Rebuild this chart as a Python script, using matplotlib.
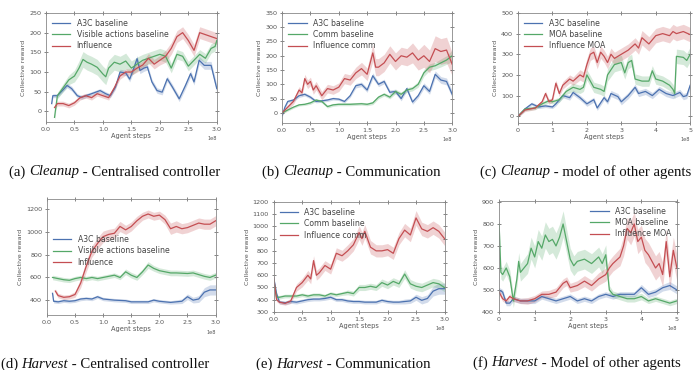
import matplotlib
matplotlib.use("Agg")
import matplotlib.pyplot as plt
import numpy as np

plt.rcParams['font.family'] = ['DejaVu Sans']

BLUE, GREEN, RED = '#4C72B0', '#55A868', '#C44E52'

# ---------------- (a) Cleanup - Centralised controller ----------------
a_blue_x = [0.10,0.12,0.20,0.30,0.37,0.45,0.55,0.62,0.70,0.80,0.95,1.05,1.13,1.22,1.30,1.40,1.47,1.53,1.60,1.65,1.72,1.78,1.86,1.95,2.04,2.13,2.22,2.34,2.45,2.54,2.60,2.69,2.78,2.90,3.00]
a_blue_y = [20,40,40,55,66,58,40,36,40,45,53,45,40,62,100,98,82,105,134,104,110,113,75,53,49,83,62,32,66,96,75,130,117,117,58]
a_blue_s = [5,5,5,5,6,6,5,5,5,5,5,5,5,6,7,7,7,8,8,8,8,8,7,7,7,7,7,7,8,8,8,10,10,10,10]
a_green_x = [0.15,0.20,0.30,0.40,0.50,0.58,0.65,0.72,0.80,0.90,1.00,1.05,1.10,1.20,1.30,1.40,1.50,1.60,1.70,1.80,1.90,2.00,2.10,2.20,2.30,2.40,2.50,2.60,2.70,2.80,2.90,2.97,3.00]
a_green_y = [-15,40,60,80,90,110,132,125,120,112,95,88,110,125,120,128,110,120,130,135,140,145,140,110,145,140,115,130,145,135,160,165,180]
a_green_s = [8,8,10,12,15,18,20,20,20,20,20,20,20,20,20,20,18,18,15,15,15,15,15,12,12,12,12,12,12,12,12,12,12]
a_red_x = [0.15,0.20,0.30,0.40,0.50,0.60,0.70,0.80,0.90,1.00,1.10,1.20,1.30,1.40,1.50,1.60,1.70,1.80,1.90,2.00,2.10,2.20,2.30,2.40,2.50,2.60,2.70,2.80,2.90,3.00]
a_red_y = [10,20,20,15,22,35,40,35,45,40,35,60,90,100,100,110,118,135,120,130,140,160,190,200,180,155,200,195,190,185]
a_red_s = [6,6,6,6,6,6,6,6,6,6,6,6,8,8,8,10,10,12,12,12,15,15,15,15,15,15,15,15,15,15]

# ---------------- (b) Cleanup - Communication ----------------
b_blue_x = [0.0,0.05,0.10,0.20,0.30,0.40,0.50,0.60,0.70,0.80,0.90,1.00,1.10,1.20,1.30,1.40,1.50,1.60,1.70,1.80,1.90,2.00,2.10,2.20,2.30,2.40,2.50,2.60,2.70,2.80,2.90,3.00]
b_blue_y = [-10,20,40,45,60,65,55,40,42,45,50,48,40,60,95,100,80,130,100,110,72,75,50,85,38,60,95,75,135,115,110,65]
b_blue_s = [5,5,5,5,6,6,6,5,5,5,5,5,5,6,8,8,8,10,8,8,8,8,8,8,8,8,10,10,12,12,12,12]
b_green_x = [0.0,0.1,0.2,0.3,0.4,0.5,0.6,0.7,0.8,0.9,1.0,1.2,1.4,1.5,1.6,1.7,1.8,1.9,2.0,2.1,2.2,2.3,2.4,2.5,2.6,2.7,2.8,2.9,3.0]
b_green_y = [0,10,20,28,30,35,45,40,22,28,30,30,32,30,35,55,65,55,75,65,80,85,100,140,160,165,175,185,200]
b_green_s = [4,4,4,4,4,5,5,5,5,5,5,5,5,5,6,6,6,6,8,8,8,8,10,12,12,12,14,15,20]
b_red_x = [0.0,0.1,0.2,0.3,0.35,0.4,0.45,0.5,0.55,0.6,0.7,0.8,0.9,1.0,1.1,1.2,1.3,1.4,1.5,1.6,1.65,1.7,1.8,1.9,2.0,2.1,2.2,2.3,2.4,2.5,2.6,2.7,2.8,2.9,3.0]
b_red_y = [0,20,40,80,70,120,100,110,80,95,60,85,80,90,120,115,140,155,135,210,160,160,175,205,180,200,195,210,185,200,180,225,215,220,170]
b_red_s = [6,8,10,12,12,15,15,15,15,15,15,15,15,15,18,18,20,22,22,30,30,30,30,30,30,30,30,35,35,40,40,45,45,45,40]

# ---------------- (c) Cleanup - model of other agents ----------------
c_blue_x = [0.0,0.2,0.4,0.6,0.8,1.0,1.1,1.3,1.5,1.6,1.8,2.0,2.2,2.3,2.5,2.6,2.7,2.9,3.0,3.2,3.4,3.5,3.7,3.9,4.1,4.3,4.5,4.7,4.8,4.9,5.0]
c_blue_y = [0,35,60,45,50,45,60,100,90,115,90,60,80,40,90,70,110,95,70,100,140,110,120,100,130,110,100,115,95,100,150]
c_blue_s = [5,8,8,8,8,8,10,10,12,12,12,12,12,12,12,12,15,15,15,15,15,15,15,15,15,15,15,15,15,15,15]
c_green_x = [0.0,0.2,0.5,0.7,0.9,1.0,1.2,1.4,1.6,1.8,1.9,2.0,2.2,2.4,2.5,2.6,2.8,3.0,3.1,3.2,3.3,3.4,3.6,3.8,3.9,4.0,4.2,4.4,4.5,4.55,4.6,4.8,4.9,5.0]
c_green_y = [0,35,40,60,75,70,80,120,140,130,140,200,140,130,120,200,250,260,210,260,270,180,170,170,220,180,170,150,130,110,290,285,270,300]
c_green_s = [5,8,8,10,10,10,12,15,20,20,20,25,25,25,25,30,35,35,30,30,30,25,25,25,25,25,25,25,25,25,35,35,35,35]
c_red_x = [0.0,0.2,0.5,0.7,0.8,0.9,1.0,1.1,1.2,1.3,1.5,1.6,1.8,1.9,2.0,2.1,2.2,2.3,2.4,2.5,2.6,2.7,2.8,3.0,3.2,3.4,3.5,3.6,3.8,4.0,4.2,4.4,4.5,4.6,4.8,5.0]
c_red_y = [0,30,40,70,110,70,80,160,110,150,180,170,200,190,250,300,310,260,310,290,260,300,280,300,320,350,330,380,350,390,400,390,410,400,410,395]
c_red_s = [5,8,8,10,12,12,12,15,15,18,20,20,25,25,30,30,30,30,30,30,30,30,30,30,30,30,30,35,35,35,35,35,35,35,35,35]

# ---------------- (d) Harvest - Centralised controller ----------------
d_blue_x = [0.10,0.12,0.20,0.30,0.40,0.50,0.60,0.70,0.80,0.90,1.00,1.10,1.20,1.40,1.50,1.60,1.80,1.90,2.00,2.20,2.40,2.50,2.60,2.70,2.80,2.90,3.00]
d_blue_y = [460,390,385,395,390,395,410,415,410,430,410,405,400,395,385,385,385,400,390,380,390,430,400,410,470,490,490]
d_blue_s = [15,15,15,15,15,15,15,15,15,15,15,15,15,15,15,15,15,15,15,15,20,25,25,30,40,45,45]
d_green_x = [0.10,0.20,0.30,0.40,0.50,0.60,0.70,0.80,0.90,1.00,1.10,1.20,1.30,1.40,1.50,1.60,1.70,1.80,1.90,2.00,2.10,2.20,2.30,2.50,2.60,2.70,2.80,2.90,3.00]
d_green_y = [600,590,580,575,590,600,590,600,590,600,610,620,600,650,620,600,650,710,680,660,650,640,640,635,640,625,610,600,620]
d_green_s = [20,20,20,20,20,20,20,20,20,20,20,20,20,25,25,25,25,30,25,25,25,25,25,25,25,25,25,25,25]
d_red_x = [0.15,0.20,0.30,0.40,0.50,0.60,0.70,0.80,0.90,1.00,1.10,1.20,1.30,1.40,1.50,1.60,1.70,1.80,1.90,2.00,2.10,2.20,2.30,2.40,2.50,2.60,2.70,2.80,2.90,3.00]
d_red_y = [480,440,425,430,450,550,700,830,900,960,980,990,1050,1020,1050,1100,1140,1160,1140,1150,1110,1030,1050,1030,1040,1060,1080,1070,1070,1100]
d_red_s = [20,20,20,20,25,40,50,50,50,50,45,45,45,40,40,40,35,35,35,35,40,50,50,45,45,45,45,45,45,45]

# ---------------- (e) Harvest - Communication ----------------
e_blue_x = [0.0,0.05,0.1,0.2,0.3,0.4,0.5,0.6,0.7,0.8,0.9,1.0,1.1,1.2,1.3,1.4,1.5,1.6,1.7,1.8,1.9,2.0,2.1,2.2,2.3,2.4,2.5,2.6,2.7,2.8,2.9,3.0]
e_blue_y = [580,450,380,375,385,380,390,400,405,405,410,420,400,400,390,385,385,380,380,380,395,385,380,380,385,390,420,395,410,470,490,490]
e_blue_s = [15,15,15,15,15,15,15,15,15,15,15,15,15,15,15,15,15,15,15,15,15,15,15,15,20,20,25,30,30,40,45,45]
e_green_x = [0.0,0.05,0.1,0.2,0.3,0.4,0.5,0.6,0.7,0.8,0.9,1.0,1.1,1.2,1.3,1.4,1.5,1.6,1.7,1.8,1.9,2.0,2.1,2.2,2.3,2.4,2.5,2.6,2.7,2.8,2.9,3.0]
e_green_y = [560,420,420,430,430,430,440,430,440,440,430,450,440,450,460,450,500,500,510,500,540,520,550,530,610,530,510,500,520,540,530,500]
e_green_s = [15,15,15,15,15,15,15,15,15,15,15,15,15,15,20,20,25,25,25,25,30,30,30,30,35,35,35,35,35,35,35,35]
e_red_x = [0.0,0.05,0.1,0.2,0.3,0.4,0.5,0.6,0.65,0.7,0.75,0.8,0.9,1.0,1.1,1.2,1.3,1.4,1.5,1.55,1.6,1.7,1.8,1.9,2.0,2.1,2.2,2.3,2.4,2.5,2.6,2.7,2.8,2.9,3.0]
e_red_y = [580,400,380,370,390,500,540,600,570,720,600,620,680,650,780,760,800,850,950,900,960,830,800,800,810,780,900,970,930,1070,980,960,990,960,900]
e_red_s = [15,15,15,15,20,30,35,40,40,40,40,40,40,40,45,45,50,50,55,55,55,55,50,50,50,50,50,55,55,60,55,55,55,55,55]

# ---------------- (f) Harvest - Model of other agents ----------------
f_blue_x = [0.0,0.1,0.2,0.3,0.4,0.6,0.8,1.0,1.2,1.4,1.6,1.8,2.0,2.2,2.4,2.6,2.8,3.0,3.2,3.4,3.6,3.8,4.0,4.2,4.4,4.6,4.8,4.9,5.0]
f_blue_y = [500,490,440,440,460,450,450,450,470,460,450,460,470,450,460,450,470,480,470,480,480,480,510,480,490,510,520,510,500]
f_blue_s = [12,12,12,12,12,12,12,12,12,12,12,12,12,12,12,12,12,12,12,12,12,12,15,15,15,15,18,18,18]
f_green_x = [0.0,0.05,0.1,0.2,0.3,0.4,0.5,0.55,0.6,0.8,0.9,1.0,1.1,1.2,1.3,1.4,1.5,1.6,1.7,1.8,1.9,2.0,2.1,2.2,2.4,2.6,2.8,2.9,3.0,3.1,3.2,3.4,3.6,3.8,4.0,4.2,4.4,4.6,4.8,5.0]
f_green_y = [800,580,570,600,560,450,550,630,580,620,690,650,720,690,750,720,730,700,740,800,720,640,610,630,640,620,650,620,660,500,480,470,460,460,470,450,460,450,440,450]
f_green_s = [20,30,30,30,30,30,35,40,40,45,50,50,55,55,60,60,60,60,60,60,55,50,45,45,45,45,45,45,45,20,15,15,15,15,15,12,12,12,12,12]
f_red_x = [0.0,0.1,0.2,0.3,0.4,0.6,0.8,1.0,1.2,1.4,1.6,1.8,1.9,2.0,2.2,2.4,2.6,2.8,3.0,3.1,3.2,3.4,3.5,3.6,3.7,3.8,3.9,4.0,4.1,4.2,4.4,4.5,4.6,4.7,4.8,4.9,5.0]
f_red_y = [490,460,450,470,460,450,450,460,480,480,490,530,540,510,520,540,520,550,570,600,620,650,700,780,760,800,720,740,680,660,600,620,570,720,560,680,600]
f_red_s = [12,12,12,12,12,12,15,15,15,18,20,20,20,20,22,25,25,28,30,35,35,40,45,50,55,55,55,55,55,55,55,55,55,60,60,60,60]

panels = [
    dict(rect=[0.0657, 0.670, 0.244, 0.295], ylim=(-27, 250), yt=np.arange(0, 251, 50), xmax=3.0,
         xt=[0.0, 0.5, 1.0, 1.5, 2.0, 2.5, 3.0], xfmt='%.1f',
         series=[(a_blue_x, a_blue_y, a_blue_s, BLUE, 'A3C baseline'),
                 (a_green_x, a_green_y, a_green_s, GREEN, 'Visible actions baseline'),
                 (a_red_x, a_red_y, a_red_s, RED, 'Influence')],
         leg=dict(loc='upper left'),
         cap=('(a) ', 'Cleanup', ' - Centralised controller'), capxy=(115, 172)),
    dict(rect=[0.403, 0.668, 0.243, 0.297], ylim=(-35, 350), yt=np.arange(0, 351, 50), xmax=3.0,
         xt=[0.0, 0.5, 1.0, 1.5, 2.0, 2.5, 3.0], xfmt='%.1f',
         series=[(b_blue_x, b_blue_y, b_blue_s, BLUE, 'A3C baseline'),
                 (b_green_x, b_green_y, b_green_s, GREEN, 'Comm baseline'),
                 (b_red_x, b_red_y, b_red_s, RED, 'Influence comm')],
         leg=dict(loc='upper left'),
         cap=('(b) ', 'Cleanup', ' - Communication'), capxy=(351, 172)),
    dict(rect=[0.740, 0.668, 0.246, 0.297], ylim=(-32, 500), yt=np.arange(0, 501, 100), xmax=5.0,
         xt=[0, 1, 2, 3, 4, 5], xfmt='%d',
         series=[(c_blue_x, c_blue_y, c_blue_s, BLUE, 'A3C baseline'),
                 (c_green_x, c_green_y, c_green_s, GREEN, 'MOA baseline'),
                 (c_red_x, c_red_y, c_red_s, RED, 'Influence MOA')],
         leg=dict(loc='upper left'),
         cap=('(c) ', 'Cleanup', ' - model of other agents'), capxy=(586, 172)),
    dict(rect=[0.067, 0.149, 0.241, 0.314], ylim=(270, 1295), yt=np.arange(400, 1201, 200), xmax=3.0,
         xt=[0.0, 0.5, 1.0, 1.5, 2.0, 2.5, 3.0], xfmt='%.1f',
         series=[(d_blue_x, d_blue_y, d_blue_s, BLUE, 'A3C baseline'),
                 (d_green_x, d_green_y, d_green_s, GREEN, 'Visible actions baseline'),
                 (d_red_x, d_red_y, d_red_s, RED, 'Influence')],
         leg=dict(loc='center left', bbox_to_anchor=(0.0, 0.55)),
         cap=('(d) ', 'Harvest', ' - Centralised controller'), capxy=(105, 364)),
    dict(rect=[0.391, 0.157, 0.244, 0.297], ylim=(300, 1200), yt=np.arange(300, 1201, 100), xmax=3.0,
         xt=[0.0, 0.5, 1.0, 1.5, 2.0, 2.5, 3.0], xfmt='%.1f',
         series=[(e_blue_x, e_blue_y, e_blue_s, BLUE, 'A3C baseline'),
                 (e_green_x, e_green_y, e_green_s, GREEN, 'Comm baseline'),
                 (e_red_x, e_red_y, e_red_s, RED, 'Influence comm')],
         leg=dict(loc='upper left'),
         cap=('(e) ', 'Harvest', ' - Communication'), capxy=(343, 364)),
    dict(rect=[0.713, 0.157, 0.254, 0.300], ylim=(400, 905), yt=np.arange(400, 901, 100), xmax=5.0,
         xt=[0, 1, 2, 3, 4, 5], xfmt='%d',
         series=[(f_blue_x, f_blue_y, f_blue_s, BLUE, 'A3C baseline'),
                 (f_green_x, f_green_y, f_green_s, GREEN, 'MOA baseline'),
                 (f_red_x, f_red_y, f_red_s, RED, 'Influence MOA')],
         leg=dict(loc='upper right'),
         cap=('(f) ', 'Harvest', ' - Model of other agents'), capxy=(577, 363)),
]

fig = plt.figure(figsize=(7.0, 3.7), dpi=100)
W, H = 700, 370
renderer = fig.canvas.get_renderer()
CAPFS = 10.6


def caption(parts, cx, cy):
    styles = ['normal', 'italic', 'normal']
    texts = []
    for s, st in zip(parts, styles):
        t = fig.text(0, 1 - cy / H, s, family='Liberation Serif', style=st,
                     fontsize=CAPFS, color='#111111', va='center', ha='left')
        texts.append(t)
    widths = [t.get_window_extent(renderer).width for t in texts]
    total = sum(widths)
    x = cx - total / 2.0
    for t, w in zip(texts, widths):
        t.set_x(x / W)
        x += w


for p in panels:
    ax = fig.add_axes(p['rect'])
    for xs, ys, ss, col, lab in p['series']:
        x = np.array(xs)
        y = np.array(ys, dtype=float)
        s = np.array(ss, dtype=float)
        ax.fill_between(x, y - s, y + s, color=col, alpha=0.25, lw=0)
        ax.plot(x, y, color=col, lw=0.9, label=lab)
    ax.set_xlim(0, p['xmax'])
    ax.set_ylim(*p['ylim'])
    ax.set_yticks(p['yt'])
    ax.set_xticks(p['xt'])
    ax.set_xticklabels([p['xfmt'] % v for v in p['xt']])
    ax.tick_params(labelsize=4.6, colors='#555555', direction='inout', length=3, width=0.5,
                   top=True, right=True, pad=2)
    for sp in ax.spines.values():
        sp.set_color('#888888')
        sp.set_linewidth(0.6)
    ax.set_xlabel('Agent steps', fontsize=4.8, color='#555555', labelpad=1)
    ax.set_ylabel('Collective reward', fontsize=4.6, color='#555555', labelpad=2)
    ax.text(1.0, -0.13, '1e8', transform=ax.transAxes, fontsize=3.6, color='#555555',
            ha='right', va='top')
    leg = ax.legend(frameon=False, fontsize=5.6, handlelength=2.4, borderaxespad=0.35,
                    labelspacing=0.3, handletextpad=0.8, **p['leg'])
    for t in leg.get_texts():
        t.set_color('#444444')
    cx, cy = p['capxy']
    caption(p['cap'], cx, cy)

fig.savefig('out.png', dpi=100, facecolor='white')
